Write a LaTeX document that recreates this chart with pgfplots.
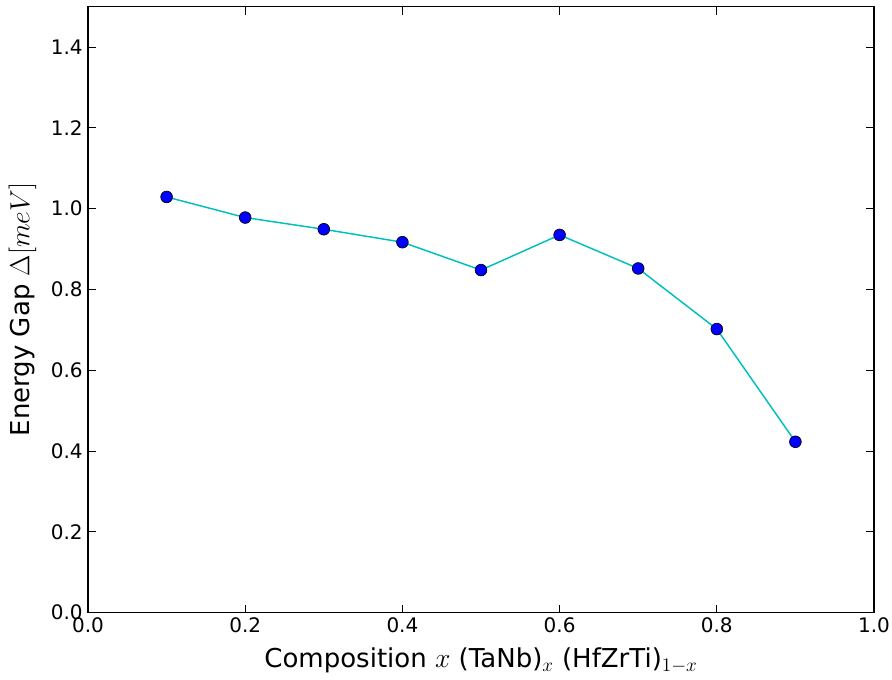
\documentclass[border=0pt]{standalone}
\usepackage{pgfplots}
\pgfplotsset{compat=1.18}
\usepackage{fontspec}
\setmainfont{DejaVu Sans}
\begin{document}
\begin{tikzpicture}
\path[use as bounding box] (-66pt,-50pt) rectangle (603pt,459.5pt);
\begin{axis}[
  at={(0,0)}, anchor=south west,
  scale only axis,
  width=589.5pt, height=454.5pt,
  xmin=0, xmax=1, ymin=0, ymax=1.5,
  xtick={0,0.2,0.4,0.6,0.8,1.0}, ytick={0,0.2,0.4,0.6,0.8,1.0,1.2,1.4},
  /pgf/number format/fixed,
  /pgf/number format/fixed zerofill,
  /pgf/number format/precision=1,
  /pgf/number format/assume math mode=true,
  tick align=inside, major tick length=6pt,
  tick style={black, line width=0.6pt},
  axis line style={line width=1.2pt},
  ticklabel style={font=\fontsize{15}{17}\selectfont},
  xticklabel style={yshift=-0.5pt},
  yticklabel style={xshift=-0.5pt},
  label style={font=\fontsize{19.5}{22}\selectfont},
  xlabel={Composition $x$ (TaNb)$_x$ (HfZrTi)$_{1-x}$},
  ylabel={Energy Gap $\Delta[meV]$},
  xlabel style={yshift=-4pt},
  ylabel style={yshift=4pt},
]
\addplot[color={rgb,1:red,0;green,0.75;blue,0.75}, line width=1.1pt,
  mark=*, mark size=4.4pt,
  mark options={fill=blue, draw=black, line width=0.5pt}]
coordinates {
(0.1,1.029)
(0.2,0.978)
(0.3,0.949)
(0.4,0.917)
(0.5,0.848)
(0.6,0.935)
(0.7,0.852)
(0.8,0.702)
(0.9,0.423)
};
\end{axis}
\end{tikzpicture}
\end{document}
